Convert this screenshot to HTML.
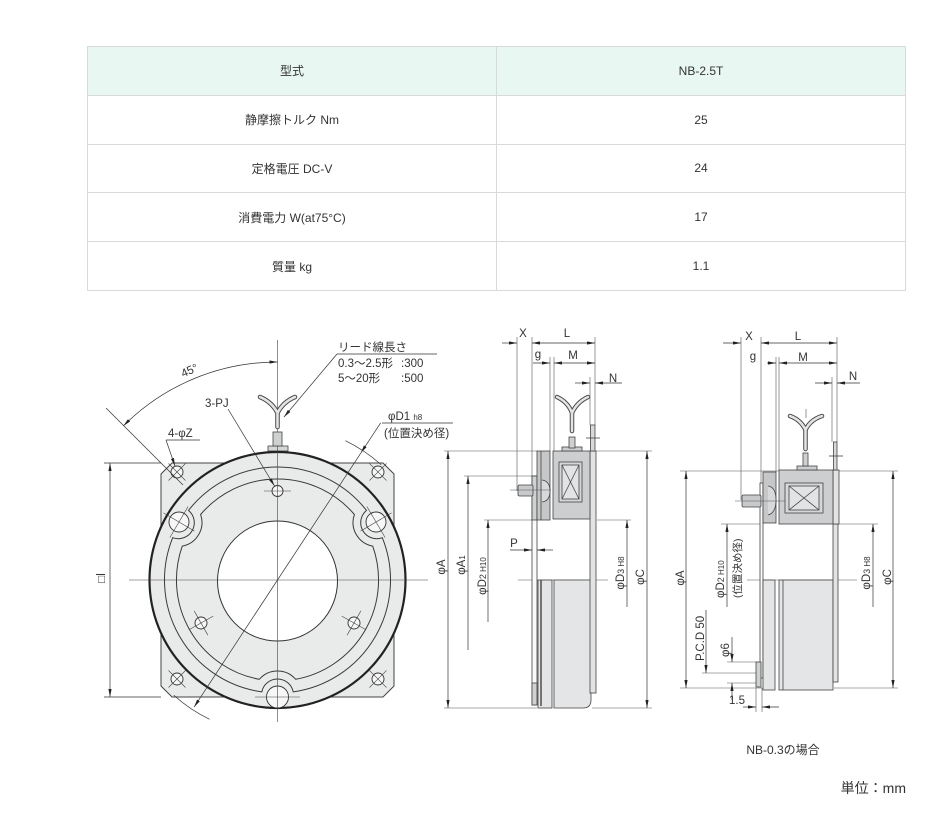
<!DOCTYPE html>
<html><head><meta charset="utf-8">
<style>
html,body{margin:0;padding:0;background:#fff;}
body{width:952px;height:813px;position:relative;overflow:hidden;font-family:"Liberation Sans","Noto Sans CJK JP",sans-serif;}
table{position:absolute;left:87px;top:46px;width:819px;border-collapse:collapse;table-layout:fixed;}
tr{height:48.8px;}
td{border:1px solid #d9d9d9;padding:0;text-align:center;vertical-align:middle;font-size:12px;color:#333;}
tr.h td{background:#e8f7f2;}
svg{position:absolute;left:0;top:0;}
svg text{font-family:"Liberation Sans","Noto Sans CJK JP",sans-serif;fill:#333;}
</style></head>
<body>
<table>
<tr class="h"><td>型式</td><td>NB-2.5T</td></tr>
<tr><td>静摩擦トルク Nm</td><td>25</td></tr>
<tr><td>定格電圧 DC-V</td><td>24</td></tr>
<tr><td>消費電力 W(at75°C)</td><td>17</td></tr>
<tr><td>質量 kg</td><td>1.1</td></tr>
</table>

<svg width="952" height="813" viewBox="0 0 952 813" xmlns="http://www.w3.org/2000/svg">
<defs>
<marker id="ar" viewBox="0 0 10 4" refX="10" refY="2" markerWidth="8" markerHeight="3.2" markerUnits="userSpaceOnUse" orient="auto-start-reverse"><path d="M0,0 L10,2 L0,4 z" fill="#222"/></marker>
</defs>

<!-- ================= FRONT VIEW ================= -->
<path d="M172,463 H383 L394,474 V686 L383,697 H172 L161,686 V474 Z" fill="#e9eaea" stroke="#444" stroke-width="1"/>
<rect x="268" y="446" width="20" height="5" fill="#d5d6d7" stroke="#444" stroke-width=".8"/>
<circle cx="277.5" cy="580" r="128" fill="#e9eaea" stroke="#222" stroke-width="2.2"/>
<path d="M366.5,510.4 A113,113 0 0 0 188.5,510.4 A16,16 0 0 1 172.7,537.7 A113,113 0 0 0 261.8,691.9 A16,16 0 0 1 293.2,691.9 A113,113 0 0 0 382.3,537.7 A16,16 0 0 1 366.5,510.4 Z" fill="none" stroke="#3a3a3a" stroke-width="1"/>
<path d="M354.4,514.5 A101,101 0 0 0 200.6,514.5 A24,24 0 0 1 182.3,546.1 A101,101 0 0 0 259.3,679.3 A24,24 0 0 1 295.7,679.3 A101,101 0 0 0 372.7,546.1 A24,24 0 0 1 354.4,514.5 Z" fill="none" stroke="#3a3a3a" stroke-width="1"/>
<circle cx="277.5" cy="581" r="60" fill="#fff" stroke="#333" stroke-width="1"/>

<g fill="#f7f7f7" stroke="#333" stroke-width=".9">
<circle cx="177" cy="472" r="6"/>
<circle cx="378" cy="472" r="6"/>
<circle cx="177" cy="679" r="6"/>
<circle cx="378" cy="679" r="6"/>
<circle cx="179" cy="522" r="10"/>
<circle cx="376" cy="522" r="10"/>
<circle cx="277.5" cy="491" r="5.5"/>
<circle cx="201" cy="623" r="6"/>
<circle cx="354" cy="623" r="6"/>
<circle cx="277.5" cy="697" r="11"/>
</g>
<g stroke="#444" stroke-width=".6">
<line x1="168.5" y1="463.5" x2="185.5" y2="480.5"/><line x1="168.5" y1="480.5" x2="185.5" y2="463.5"/>
<line x1="369.5" y1="463.5" x2="386.5" y2="480.5"/><line x1="369.5" y1="480.5" x2="386.5" y2="463.5"/>
<line x1="168.5" y1="670.5" x2="185.5" y2="687.5"/><line x1="168.5" y1="687.5" x2="185.5" y2="670.5"/>
<line x1="369.5" y1="670.5" x2="386.5" y2="687.5"/><line x1="369.5" y1="687.5" x2="386.5" y2="670.5"/>
<line x1="163.5" y1="512.9" x2="194.5" y2="531.1"/><line x1="188.1" y1="506.5" x2="169.9" y2="537.5"/>
<line x1="360.5" y1="531.1" x2="391.5" y2="512.9"/><line x1="366.9" y1="506.5" x2="385.1" y2="537.5"/>
<line x1="264" y1="491" x2="291" y2="491"/>
<line x1="188.8" y1="629.9" x2="213.2" y2="616.1"/><line x1="194.1" y1="610.8" x2="207.9" y2="635.2"/>
<line x1="341.8" y1="616.1" x2="366.2" y2="629.9"/><line x1="360.9" y1="610.8" x2="347.1" y2="635.2"/>
<line x1="255" y1="697" x2="300" y2="697"/>
<line x1="129" y1="580" x2="428" y2="580"/>
<line x1="277.5" y1="340" x2="277.5" y2="722"/>
</g>

<rect x="273" y="432" width="9" height="14" fill="#cfd0d1" stroke="#444" stroke-width=".8"/>
<g fill="none" stroke-linecap="round">
<path d="M277.5,427 V413 M277.5,413 Q272,402 260,397 M277.5,413 Q283,402 295,397" stroke="#444" stroke-width="4.5"/>
<path d="M277.5,427 V413 M277.5,413 Q272,402 260,397 M277.5,413 Q283,402 295,397" stroke="#e2e3e4" stroke-width="2.6"/>
</g>

<g stroke="#333" stroke-width=".7" fill="none">
<path d="M277.5,362 A218,218 0 0 0 123.4,425.9" marker-start="url(#ar)" marker-end="url(#ar)"/>
<line x1="106" y1="408" x2="183" y2="485"/>
<line x1="380.7" y1="422.8" x2="360.9" y2="452.9" marker-end="url(#ar)"/>
<line x1="360.9" y1="452.9" x2="194.1" y2="707.1" marker-end="url(#ar)"/>
<path d="M381.2,464.8 A155,155 0 0 0 345.4,440.7"/>
<path d="M173.8,695.2 A155,155 0 0 0 209.6,719.3"/>
<line x1="110" y1="463" x2="110" y2="697" marker-start="url(#ar)" marker-end="url(#ar)"/>
<line x1="104" y1="463" x2="161" y2="463"/>
<line x1="104" y1="697" x2="161" y2="697"/>
<line x1="228" y1="409" x2="274.5" y2="486" marker-end="url(#ar)"/>
<line x1="166" y1="440" x2="200" y2="440"/>
<line x1="166" y1="440" x2="175" y2="466" marker-end="url(#ar)"/>
<line x1="337" y1="354" x2="437" y2="354"/>
<line x1="337" y1="354" x2="284" y2="417" marker-end="url(#ar)"/>
<line x1="382" y1="423" x2="453" y2="423"/>
</g>
<g font-size="11.5">
<text transform="translate(191,374) rotate(-24)" text-anchor="middle">45°</text>
<text x="205" y="407">3-PJ</text>
<text x="168" y="437">4-φZ</text>
<text x="338" y="351">リード線長さ</text>
<text x="338" y="367">0.3〜2.5形</text><text x="401" y="367">:300</text>
<text x="338" y="382">5〜20形</text><text x="401" y="382">:500</text>
<text x="388" y="420">φD1 <tspan font-size="8">h8</tspan></text>
<text x="384" y="437">(位置決め径)</text>
<text transform="translate(105,578) rotate(-90)" text-anchor="middle">□l</text>
</g>

<!-- ================= SIDE VIEW 1 ================= -->
<g stroke="#555" stroke-width=".6">
<line x1="444" y1="451" x2="537" y2="451"/>
<line x1="464" y1="476" x2="532" y2="476"/>
<line x1="484" y1="520" x2="532" y2="520"/>
<line x1="444" y1="708" x2="537" y2="708"/>
<line x1="596" y1="451" x2="652" y2="451"/>
<line x1="597" y1="520" x2="631" y2="520"/>
<line x1="592" y1="708" x2="652" y2="708"/>
<line x1="517" y1="337" x2="517" y2="491"/>
<line x1="532" y1="337" x2="532" y2="476"/>
<line x1="550" y1="357" x2="550" y2="451"/>
<line x1="554" y1="357" x2="554" y2="451"/>
<line x1="595" y1="337" x2="595" y2="425"/>
<line x1="590" y1="377" x2="590" y2="425"/>
<line x1="518" y1="580" x2="608" y2="580"/>
</g>
<g stroke="#444" stroke-width=".8">
<rect x="538" y="580" width="14" height="128" fill="#e4e5e6"/>
<path d="M554,580 H591 V700 Q591,708 583,708 H554 Z" fill="#e4e5e6"/>
<line x1="541" y1="580" x2="541" y2="706" stroke-width="1.4"/>
<rect x="532" y="476" width="5" height="229" fill="#fafafa"/>
<rect x="532" y="476" width="5" height="44" fill="#d0d1d2"/>
<rect x="532" y="683" width="5" height="22" fill="#d0d1d2"/>
<rect x="590" y="451" width="6" height="242" fill="#e2e3e4"/>
<rect x="590.5" y="425" width="4.5" height="26" fill="#d8d9da"/>
<line x1="586" y1="438" x2="600" y2="438"/>
<rect x="537" y="451" width="13" height="69" fill="#c6c7c8"/>
<line x1="541" y1="451" x2="541" y2="520"/>
<path d="M542,480 Q550,481 550,491 Q550,501 542,502" fill="#d8d9da"/>
<rect x="518" y="485" width="15" height="11" rx="1.5" fill="#c8c9ca"/>
<rect x="553" y="451" width="37" height="68" fill="#cdcecf"/>
<rect x="562" y="447" width="20" height="4" fill="#cdcecf"/>
<rect x="559" y="462" width="23" height="40" fill="#d6d7d8"/>
<rect x="562" y="465" width="17" height="34" fill="#e2e3e4"/>
<line x1="562" y1="465" x2="579" y2="499"/><line x1="579" y1="465" x2="562" y2="499"/>
<rect x="569" y="437" width="6" height="11" fill="#cfd0d1"/>
</g>
<line x1="510" y1="490" x2="551" y2="490" stroke="#555" stroke-width=".6"/>
<g fill="none" stroke-linecap="round">
<path d="M572,431 V413 M572,413 Q568,402 557,397 M572,413 Q577,402 588,397" stroke="#444" stroke-width="4.5"/>
<path d="M572,431 V413 M572,413 Q568,402 557,397 M572,413 Q577,402 588,397" stroke="#e2e3e4" stroke-width="2.6"/>
</g>
<g stroke="#333" stroke-width=".7" fill="none">
<line x1="502" y1="343" x2="517" y2="343" marker-end="url(#ar)"/>
<line x1="532" y1="343" x2="595" y2="343" marker-start="url(#ar)" marker-end="url(#ar)"/>
<line x1="533" y1="363" x2="550" y2="363" marker-end="url(#ar)"/>
<line x1="554" y1="363" x2="595" y2="363" marker-start="url(#ar)" marker-end="url(#ar)"/>
<line x1="575" y1="383" x2="590" y2="383" marker-end="url(#ar)"/>
<line x1="622" y1="383" x2="595" y2="383" marker-end="url(#ar)"/>
<line x1="448" y1="451" x2="448" y2="708" marker-start="url(#ar)" marker-end="url(#ar)"/>
<line x1="468" y1="650" x2="468" y2="476" marker-end="url(#ar)"/>
<line x1="488" y1="622" x2="488" y2="520" marker-end="url(#ar)"/>
<line x1="627" y1="607" x2="627" y2="520" marker-end="url(#ar)"/>
<line x1="647" y1="451" x2="647" y2="708" marker-start="url(#ar)" marker-end="url(#ar)"/>
<line x1="510" y1="550" x2="532" y2="550" marker-end="url(#ar)"/>
<line x1="553" y1="550" x2="537" y2="550" marker-end="url(#ar)"/>
</g>
<g font-size="11.5" text-anchor="middle">
<text x="523" y="337">X</text>
<text x="567" y="337">L</text>
<text x="538" y="358">g</text>
<text x="573" y="359">M</text>
<text x="613" y="382">N</text>
<text x="514" y="547">P</text>
<text transform="translate(445,567) rotate(-90)">φA</text>
<text transform="translate(465,565) rotate(-90)">φA<tspan font-size="8">1</tspan></text>
<text transform="translate(486,576) rotate(-90)">φD<tspan font-size="9">2</tspan><tspan font-size="8"> H10</tspan></text>
<text transform="translate(624,573) rotate(-90)">φD<tspan font-size="9">3</tspan><tspan font-size="8"> H8</tspan></text>
<text transform="translate(644,577) rotate(-90)">φC</text>
</g>

<!-- ================= SIDE VIEW 2 ================= -->
<g stroke="#555" stroke-width=".6">
<line x1="680" y1="471" x2="779" y2="471"/>
<line x1="680" y1="688" x2="763" y2="688"/>
<line x1="721" y1="524" x2="762" y2="524"/>
<line x1="702" y1="673" x2="757" y2="673"/>
<line x1="727" y1="662" x2="757" y2="662"/>
<line x1="727" y1="683" x2="757" y2="683"/>
<line x1="839" y1="471" x2="898" y2="471"/>
<line x1="839" y1="524" x2="878" y2="524"/>
<line x1="834" y1="688" x2="898" y2="688"/>
<line x1="741" y1="337" x2="741" y2="500"/>
<line x1="761" y1="337" x2="761" y2="483"/>
<line x1="776" y1="357" x2="776" y2="472"/>
<line x1="779" y1="357" x2="779" y2="470"/>
<line x1="837" y1="337" x2="837" y2="442"/>
<line x1="832" y1="377" x2="832" y2="442"/>
<line x1="756" y1="688" x2="756" y2="712"/>
<line x1="762" y1="688" x2="762" y2="712"/>
<line x1="747" y1="580" x2="857" y2="580"/>
</g>
<g stroke="#444" stroke-width=".8">
<rect x="779" y="580" width="54" height="110" fill="#e4e5e6"/>
<line x1="783" y1="580" x2="783" y2="690"/>
<rect x="833" y="524" width="5" height="158" fill="#e2e3e4"/>
<rect x="760" y="483" width="3" height="195" fill="#fafafa"/>
<rect x="763" y="580" width="12" height="110" fill="#e4e5e6"/>
<rect x="756" y="662" width="5" height="25" fill="#d0d1d2"/>
<rect x="833" y="470" width="6" height="54" fill="#e2e3e4"/>
<rect x="833.5" y="442" width="3.5" height="28" fill="#d8d9da"/>
<line x1="829" y1="456" x2="843" y2="456"/>
<rect x="763" y="472" width="13" height="51" fill="#c6c7c8"/>
<path d="M768,486 Q776,487 776,500 Q776,513 768,515" fill="#d8d9da"/>
<rect x="742" y="495" width="19" height="12" rx="1.5" fill="#c8c9ca"/>
<rect x="779" y="470" width="54" height="54" fill="#cdcecf"/>
<rect x="797" y="466" width="20" height="4" fill="#cdcecf"/>
<rect x="785" y="483" width="38" height="30" fill="#d6d7d8"/>
<rect x="789" y="486" width="30" height="24" fill="#e2e3e4"/>
<line x1="789" y1="486" x2="819" y2="510"/><line x1="819" y1="486" x2="789" y2="510"/>
<rect x="803" y="453" width="5" height="13" fill="#cfd0d1"/>
</g>
<line x1="735" y1="501" x2="785" y2="501" stroke="#555" stroke-width=".6"/>
<line x1="806" y1="409" x2="806" y2="418" stroke="#555" stroke-width=".6"/>
<g fill="none" stroke-linecap="round">
<path d="M805.5,449 V430 M805.5,430 Q801,420 790,416 M805.5,430 Q810,420 822,416" stroke="#444" stroke-width="4.5"/>
<path d="M805.5,449 V430 M805.5,430 Q801,420 790,416 M805.5,430 Q810,420 822,416" stroke="#e2e3e4" stroke-width="2.6"/>
</g>
<g stroke="#333" stroke-width=".7" fill="none">
<line x1="723" y1="343" x2="741" y2="343" marker-end="url(#ar)"/>
<line x1="761" y1="343" x2="837" y2="343" marker-start="url(#ar)" marker-end="url(#ar)"/>
<line x1="767" y1="363" x2="776" y2="363" marker-end="url(#ar)"/>
<line x1="779" y1="363" x2="837" y2="363" marker-start="url(#ar)" marker-end="url(#ar)"/>
<line x1="815" y1="383" x2="832" y2="383" marker-end="url(#ar)"/>
<line x1="860" y1="383" x2="837" y2="383" marker-end="url(#ar)"/>
<line x1="686" y1="471" x2="686" y2="688" marker-start="url(#ar)" marker-end="url(#ar)"/>
<line x1="727" y1="607" x2="727" y2="524" marker-end="url(#ar)"/>
<line x1="706" y1="610" x2="706" y2="673" marker-end="url(#ar)"/>
<line x1="732" y1="637" x2="732" y2="662" marker-end="url(#ar)"/>
<line x1="732" y1="700" x2="732" y2="683" marker-end="url(#ar)"/>
<line x1="743" y1="707" x2="756" y2="707" marker-end="url(#ar)"/>
<line x1="779" y1="707" x2="762" y2="707" marker-end="url(#ar)"/>
<line x1="873" y1="607" x2="873" y2="524" marker-end="url(#ar)"/>
<line x1="893" y1="471" x2="893" y2="688" marker-start="url(#ar)" marker-end="url(#ar)"/>
</g>
<g font-size="11.5" text-anchor="middle">
<text x="749" y="340">X</text>
<text x="798" y="340">L</text>
<text x="753" y="360">g</text>
<text x="803" y="361">M</text>
<text x="853" y="380">N</text>
<text x="737" y="704">1.5</text>
<text transform="translate(684,578) rotate(-90)">φA</text>
<text transform="translate(870,573) rotate(-90)">φD<tspan font-size="9">3</tspan><tspan font-size="8"> H8</tspan></text>
<text transform="translate(891,577) rotate(-90)">φC</text>
</g>
<g font-size="11.5" text-anchor="start">
<text transform="translate(724,598) rotate(-90)">φD<tspan font-size="9">2</tspan><tspan font-size="8"> H10</tspan></text>
<text transform="translate(741,598) rotate(-90)" font-size="10.5">(位置決め径)</text>
<text transform="translate(704,661) rotate(-90)">P.C.D 50</text>
<text transform="translate(729,657) rotate(-90)">φ6</text>
</g>
<text x="783" y="754" font-size="12" text-anchor="middle">NB-0.3の場合</text>
<text x="906" y="793" font-size="14" text-anchor="end">単位：mm</text>
</svg>
</body></html>
